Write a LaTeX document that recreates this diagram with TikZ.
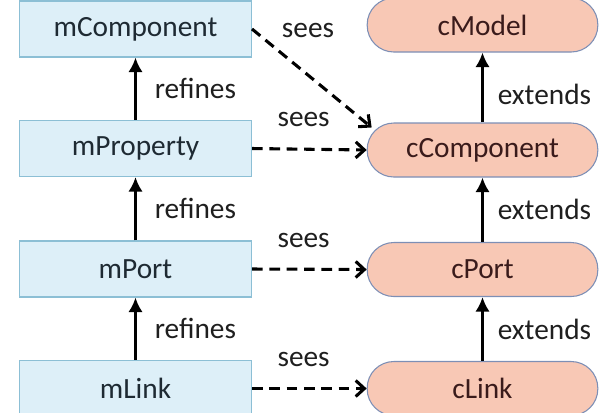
\documentclass[tikz,border=0pt]{standalone}
\usepackage{fontspec}
\setmainfont{Carlito}
\usetikzlibrary{positioning}
\usetikzlibrary{calc}
\usetikzlibrary{arrows.meta}

\definecolor{mfill}{HTML}{DDEFF8}
\definecolor{mline}{HTML}{8CBFD5}
\definecolor{cfill}{HTML}{F8C8B5}
\definecolor{cline}{HTML}{7D8FB5}
\definecolor{ctext}{HTML}{3A1B1B}
\definecolor{mtext}{HTML}{1E2A33}

\tikzset{
	mbox/.style={draw=mline, line width=0.8pt, fill=mfill, text=mtext,
		minimum width=174pt, minimum height=42pt, inner sep=0pt},
	cbox/.style={draw=cline, line width=0.8pt, fill=cfill, text=ctext,
		rounded corners=20pt, minimum width=173pt, minimum height=40.5pt, inner sep=0pt},
	refine/.style={line width=2.3pt, -{Latex[length=11pt,width=11pt]}},
	see/.style={line width=2.3pt, dash pattern=on 8pt off 5pt,
		-{Straight Barb[length=6.5pt,width=12pt,line width=2.3pt]}},
	lbl/.style={text=black!88}
}

\begin{document}
\begin{tikzpicture}[x=0.75pt, y=-0.75pt, font=\fontsize{22}{26}\selectfont]
	\useasboundingbox (0,0) rectangle (602,412);
	% meta side
	\node[mbox] (mComponent) at (135.5,29) {mComponent};
	\node[mbox] (mProperty) at (135.5,148.5) {mProperty};
	\node[mbox] (mPort) at (135.5,269) {mPort};
	\node[mbox] (mLink) at (135.5,388.5) {mLink};
	% concrete side
	\node[cbox] (cModel) at (482.5,25) {cModel};
	\node[cbox] (cComponent) at (482.5,150) {cComponent};
	\node[cbox] (cPort) at (482.5,269.5) {cPort};
	\node[cbox] (cLink) at (482.5,388.5) {cLink};

	\draw[refine] (mProperty) to node[lbl,right=10pt]{refines} (mComponent);
	\draw[refine] (mPort) to node[lbl,right=10pt]{refines} (mProperty);
	\draw[refine] (mLink) to node[lbl,right=10pt]{refines} (mPort);

	\draw[refine] (cComponent) to node[lbl,pos=0.4,right=7pt]{extends} (cModel);
	\draw[refine] (cPort) to node[lbl,right=7pt]{extends} (cComponent);
	\draw[refine] (cLink) to node[lbl,right=7pt]{extends} (cPort);

	\coordinate (hit) at ([shift={(5,5)}]cComponent.north west);
	\draw[see] (mComponent.east) to node[lbl,pos=0.2,anchor=south west,yshift=4pt]{sees} (hit);
	\draw[see] (mProperty.east) to node[lbl,pos=0.45,above=12pt]{sees} (cComponent.west);
	\draw[see] (mPort.east) to node[lbl,pos=0.45,above=12pt]{sees} (cPort.west);
	\draw[see] (mLink.east) to node[lbl,pos=0.45,above=12pt]{sees} (cLink.west);
\end{tikzpicture}
\end{document}
